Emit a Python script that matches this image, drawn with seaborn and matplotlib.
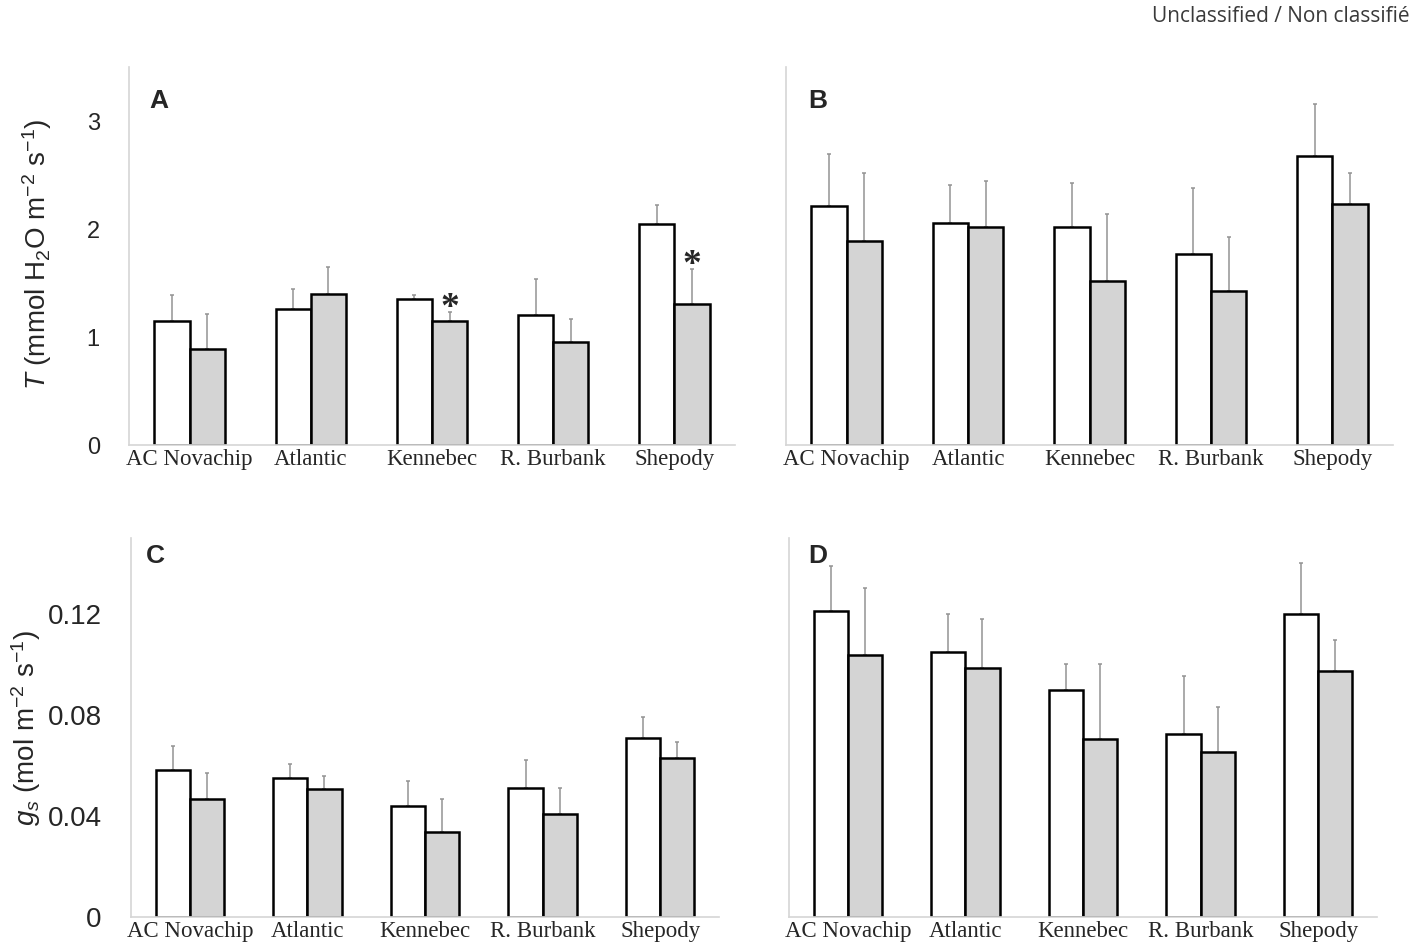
import numpy as np
import pandas as pd
import matplotlib
matplotlib.use("Agg")
import matplotlib.pyplot as plt
import seaborn as sns

sns.set_style("white")
plt.rcParams["font.family"] = ["Liberation Sans", "DejaVu Sans"]
plt.rcParams["mathtext.fontset"] = "custom"
plt.rcParams["mathtext.rm"] = "Liberation Sans"
plt.rcParams["mathtext.it"] = "Liberation Sans:italic"

cultivars = ["AC Novachip", "Atlantic", "Kennebec", "R. Burbank", "Shepody"]

# panel A - transpiration
a_open = [1.15, 1.26, 1.35, 1.20, 2.05]
a_open_err = [0.24, 0.18, 0.04, 0.34, 0.17]
a_filled = [0.89, 1.40, 1.15, 0.95, 1.31]
a_filled_err = [0.32, 0.25, 0.08, 0.22, 0.32]
a_stars = [False, False, True, False, True]

# panel B - transpiration
b_open = [2.21, 2.06, 2.02, 1.77, 2.68]
b_open_err = [0.48, 0.35, 0.41, 0.61, 0.48]
b_filled = [1.89, 2.02, 1.52, 1.43, 2.23]
b_filled_err = [0.63, 0.42, 0.62, 0.50, 0.29]

# panel C - stomatal conductance
c_open = [0.058, 0.055, 0.044, 0.051, 0.071]
c_open_err = [0.0095, 0.0057, 0.0098, 0.011, 0.0083]
c_filled = [0.0466, 0.0505, 0.0338, 0.0406, 0.0628]
c_filled_err = [0.0102, 0.0053, 0.0128, 0.0103, 0.0066]

# panel D - stomatal conductance
d_open = [0.121, 0.105, 0.090, 0.0725, 0.120]
d_open_err = [0.0178, 0.0149, 0.0100, 0.0230, 0.0202]
d_filled = [0.1036, 0.0986, 0.0705, 0.0653, 0.0973]
d_filled_err = [0.0267, 0.0193, 0.0297, 0.0179, 0.0124]

t_ticks = [0, 1, 2, 3]
t_ticklabels = ["0", "1", "2", "3"]
g_ticks = [0, 0.04, 0.08, 0.12]
g_ticklabels = ["0", "0.04", "0.08", "0.12"]

fig = plt.figure(figsize=(14.17, 9.47), dpi=100)
W, H = 1417, 947


def axes_px(left, right, top, bottom):
    return fig.add_axes([left / W, 1 - bottom / H, (right - left) / W, (bottom - top) / H])


def panel(ax, open_vals, open_err, filled_vals, filled_err, ymax, ticks, ticklabels,
          show_labels, stars=None, tick_size=17):
    df = pd.DataFrame({
        "cultivar": cultivars * 2,
        "value": list(open_vals) + list(filled_vals),
        "series": ["open"] * len(cultivars) + ["filled"] * len(cultivars),
    })
    sns.barplot(data=df, x="cultivar", y="value", hue="series", hue_order=["open", "filled"],
                palette={"open": "white", "filled": "#d4d4d4"}, edgecolor="black",
                linewidth=1.8, width=0.58, errorbar=None, legend=False, ax=ax, zorder=2)
    for cont, errs in zip(ax.containers, [open_err, filled_err]):
        xs = [p.get_x() + p.get_width() / 2 for p in cont]
        ys = [p.get_height() for p in cont]
        ax.errorbar(xs, ys, yerr=[np.zeros(len(errs)), errs], fmt="none",
                    ecolor="#939393", elinewidth=1.1, capsize=1.5, capthick=1.1, zorder=1)
    if stars is not None:
        cont = ax.containers[1]
        for p, e, s in zip(cont, filled_err, stars):
            if s:
                ax.annotate("*", (p.get_x() + p.get_width() / 2, p.get_height() + e),
                            xytext=(0, -4), textcoords="offset points",
                            ha="center", va="baseline", fontsize=27, fontweight="bold",
                            family="Liberation Serif")
    ax.set_xlim(-0.5, 4.5)
    ax.set_ylim(0, ymax)
    ax.set_yticks(ticks)
    if show_labels:
        ax.set_yticklabels(ticklabels)
    else:
        ax.set_yticklabels([])
    ax.set_xlabel("")
    ax.set_ylabel("")
    sns.despine(ax=ax)
    for side in ["left", "bottom"]:
        ax.spines[side].set_color("#d5d5d5")
        ax.spines[side].set_linewidth(1.2)
    ax.tick_params(axis="y", length=7, width=1, color="#d0d0d0", pad=14, labelsize=tick_size)
    ax.tick_params(axis="x", length=0, pad=3, labelsize=16.5)
    for lbl in ax.get_xticklabels():
        lbl.set_family("Liberation Serif")


ax_a = axes_px(129, 735, 67, 445)
ax_b = axes_px(786, 1393, 67, 445)
ax_c = axes_px(131, 719, 538, 917)
ax_d = axes_px(789, 1377, 538, 917)

panel(ax_a, a_open, a_open_err, a_filled, a_filled_err, 3.5, t_ticks, t_ticklabels, True, a_stars)
panel(ax_b, b_open, b_open_err, b_filled, b_filled_err, 3.5, t_ticks, t_ticklabels, False)
panel(ax_c, c_open, c_open_err, c_filled, c_filled_err, 0.15, g_ticks, g_ticklabels, True, tick_size=20)
panel(ax_d, d_open, d_open_err, d_filled, d_filled_err, 0.15, g_ticks, g_ticklabels, False, tick_size=20)

fig.text(37 / W, 1 - 254 / H, r"$T$ (mmol H$_2$O m$^{-2}$ s$^{-1}$)", rotation=90,
         ha="center", va="center", fontsize=20)
fig.text(26 / W, 1 - 728 / H, r"$g_s$ (mol m$^{-2}$ s$^{-1}$)", rotation=90,
         ha="center", va="center", fontsize=20)

for letter, x, y in [("A", 149, 108), ("B", 808, 108), ("C", 146, 563), ("D", 808, 563)]:
    fig.text(x / W, 1 - y / H, letter, fontsize=19, fontweight="bold", ha="left", va="baseline")

fig.text(1410 / W, 1 - 17 / H, "Unclassified / Non classifié", ha="right", va="center",
         fontsize=15, color="#3a3a3a", family=["Open Sans", "DejaVu Sans"])

fig.savefig("out.png", dpi=100)
